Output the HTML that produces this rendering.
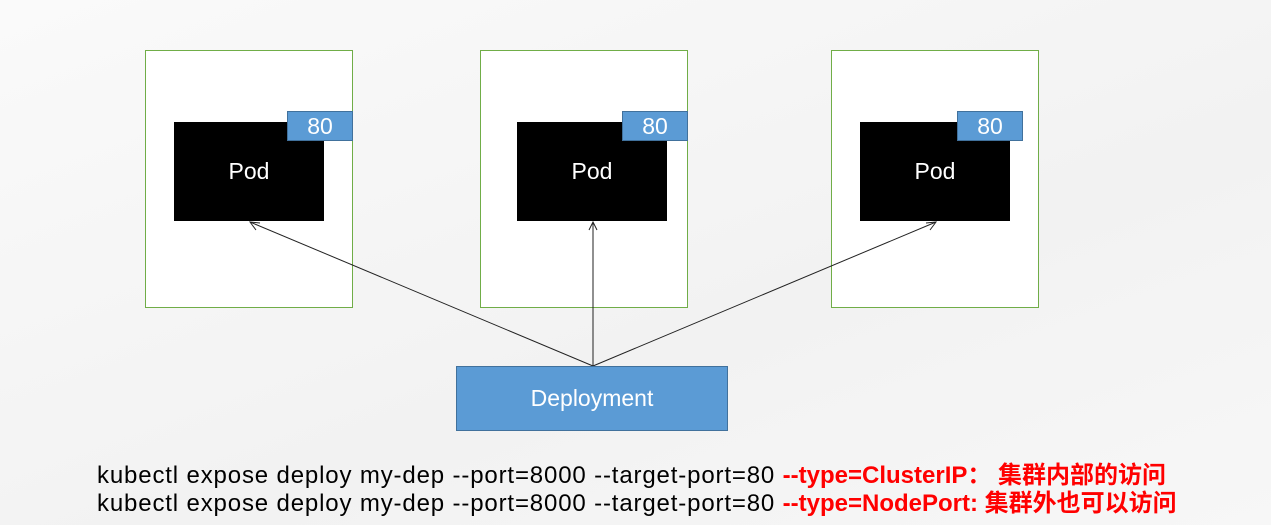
<!DOCTYPE html>
<html><head><meta charset="utf-8"><style>
body{margin:0;width:1271px;height:525px;overflow:hidden;background:linear-gradient(160deg,#fafafa,#f2f2f2 60%,#f7f7f7);font-family:"Liberation Sans","Noto Sans CJK SC",sans-serif;position:relative}
.n{position:absolute;border:1px solid #70ad47;background:#fff;box-sizing:border-box}
.p{position:absolute;background:#000;color:#fff;font-size:23px;display:flex;align-items:center;justify-content:center}
.t{position:absolute;background:#5b9bd5;border:1px solid #41719c;box-sizing:border-box;color:#fff;font-size:23px;display:flex;align-items:center;justify-content:center}
.l{position:absolute;left:97px;font-size:24px;color:#000;white-space:nowrap;letter-spacing:0.85px}
.r{color:#f00;font-weight:bold;letter-spacing:0}
</style></head><body>
<div class="n" style="left:145px;top:50px;width:208px;height:258px"></div>
<div class="n" style="left:480px;top:50px;width:208px;height:258px"></div>
<div class="n" style="left:831px;top:50px;width:208px;height:258px"></div>
<div class="p" style="left:174px;top:122px;width:150px;height:99px">Pod</div>
<div class="p" style="left:517px;top:122px;width:150px;height:99px">Pod</div>
<div class="p" style="left:860px;top:122px;width:150px;height:99px">Pod</div>
<div class="t" style="left:287px;top:111px;width:66px;height:30px">80</div>
<div class="t" style="left:622px;top:111px;width:66px;height:30px">80</div>
<div class="t" style="left:957px;top:111px;width:66px;height:30px">80</div>
<svg style="position:absolute;left:0;top:0" width="1271" height="525">
<g stroke="#222" stroke-width="1" fill="none">
<line x1="593" y1="366" x2="250" y2="222"/><line x1="593" y1="366" x2="593" y2="222"/><line x1="593" y1="366" x2="936" y2="222"/>
<polyline points="256,230 250,222 260,223"/><polyline points="589,230 593,222 597,230"/><polyline points="926,223 936,222 930,230"/>
</g></svg>
<div class="t" style="left:456px;top:366px;width:272px;height:65px">Deployment</div>
<div class="l" style="top:455px">kubectl expose deploy my-dep --port=8000 --target-port=80 <span class="r">--type=ClusterIP：&nbsp;集群内部的访问</span></div>
<div class="l" style="top:483px">kubectl expose deploy my-dep --port=8000 --target-port=80 <span class="r">--type=NodePort:&nbsp;集群外也可以访问</span></div>
</body></html>
